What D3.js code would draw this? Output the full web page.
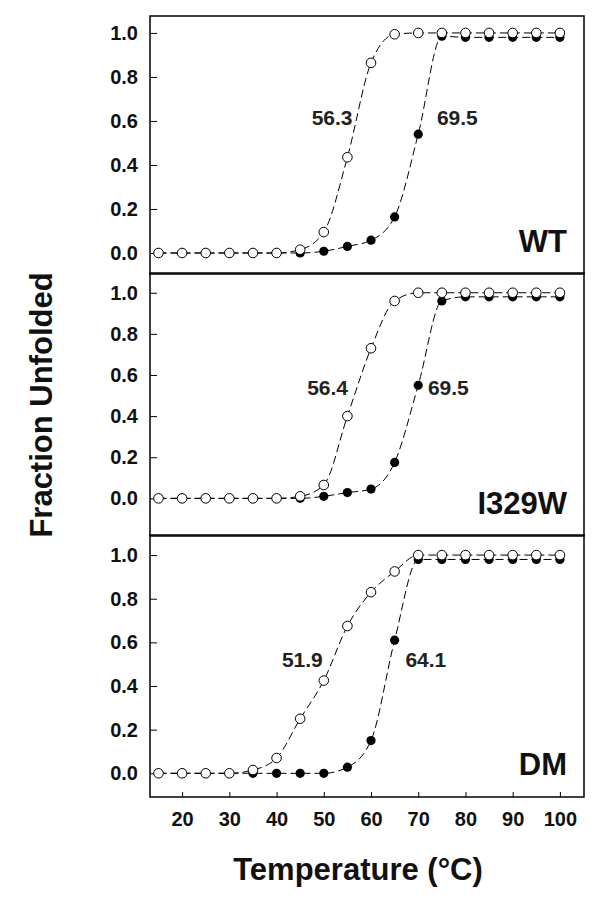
<!DOCTYPE html>
<html>
<head>
<meta charset="utf-8">
<title>Fraction Unfolded</title>
<script src="https://d3js.org/d3.v7.min.js"></script>
<style>
  body { margin: 0; background: #fff; }
  text { font-family: "Liberation Sans", Arial, sans-serif; }
</style>
</head>
<body>
<script>
// temperatures (°C)
var temps = [15, 20, 25, 30, 35, 40, 45, 50, 55, 60, 65, 70, 75, 80, 85, 90, 95, 100];

// fraction unfolded, open and filled circles
var wtOpen   = [0, 0, 0, 0, 0, 0, 0.015, 0.095, 0.435, 0.864, 0.994, 1.0, 1.0, 1.0, 1.0, 1.0, 1.0, 1.0];
var wtFilled = [0, 0, 0, 0, 0, 0, 0, 0.008, 0.03, 0.058, 0.164, 0.54, 0.985, 0.98, 0.98, 0.98, 0.98, 0.98];
var i329Open   = [0, 0, 0, 0, 0, 0, 0.01, 0.065, 0.40, 0.73, 0.96, 1.0, 1.0, 1.0, 1.0, 1.0, 1.0, 1.0];
var i329Filled = [0, 0, 0, 0, 0, 0, 0, 0.01, 0.028, 0.045, 0.175, 0.55, 0.96, 0.98, 0.98, 0.98, 0.98, 0.98];
var dmOpen   = [0, 0, 0, 0, 0.015, 0.07, 0.25, 0.425, 0.675, 0.83, 0.925, 1.0, 1.0, 1.0, 1.0, 1.0, 1.0, 1.0];
var dmFilled = [0, 0, 0, 0, 0, 0, 0, 0, 0.028, 0.15, 0.61, 0.98, 0.98, 0.98, 0.98, 0.98, 0.98, 0.98];

var panelNames = ["WT", "I329W", "DM"];
var tmOpen   = ["56.3", "56.4", "51.9"];
var tmFilled = ["69.5", "69.5", "64.1"];

var xTicks = [20, 30, 40, 50, 60, 70, 80, 90, 100];
var yTicks = [0.0, 0.2, 0.4, 0.6, 0.8, 1.0];

var W = 600, H = 901;
var left = 150, right = 584;

var svg = d3.select("body").append("svg")
    .attr("width", W)
    .attr("height", H);

var x = d3.scaleLinear().domain([13.2, 105.1]).range([left, right]);

// layout of the three stacked panels
var panels = [
  { top: 16,  bottom: 274, dom: [-0.0955, 1.077], open: wtOpen,   filled: wtFilled,
    lab: { dxO: -1, dxF: 21, yv: 0.582 } },
  { top: 273, bottom: 536, dom: [-0.183, 1.096],  open: i329Open, filled: i329Filled,
    lab: { dxO: -6, dxF: 12, yv: 0.502 } },
  { top: 535, bottom: 797, dom: [-0.1086, 1.092], open: dmOpen,   filled: dmFilled,
    lab: { dxO: -10, dxF: 15, yv: 0.487 } }
];

panels.forEach(function (p, k) {
  var y = d3.scaleLinear().domain(p.dom).range([p.bottom, p.top]);
  var g = svg.append("g");

  // y axis, ticks pointing inward
  var ya = g.append("g")
      .attr("transform", "translate(" + left + ",0)")
      .call(d3.axisRight(y).tickValues(yTicks).tickSize(7).tickFormat(d3.format(".1f")));
  ya.select(".domain").remove();
  ya.selectAll("line").attr("stroke", "#000").attr("stroke-width", 1);
  ya.selectAll("text")
      .attr("x", -12)
      .attr("text-anchor", "end")
      .attr("font-size", 20)
      .attr("font-weight", "bold")
      .attr("fill", "#111");

  if (k === 2) {
    var xa = g.append("g")
        .attr("transform", "translate(0," + p.bottom + ")")
        .call(d3.axisTop(x).tickValues(xTicks).tickSize(5));
    xa.select(".domain").remove();
    xa.selectAll("line").attr("stroke", "#000").attr("stroke-width", 1);
    xa.selectAll("text")
        .attr("y", 29)
        .attr("dy", 0)
        .attr("text-anchor", "middle")
        .attr("font-size", 20)
        .attr("font-weight", "bold")
        .attr("fill", "#111");
  }

  var line = d3.line()
      .x(function (d, i) { return x(temps[i]); })
      .y(function (d) { return y(d); })
      .curve(d3.curveMonotoneX);

  [p.filled, p.open].forEach(function (s) {
    g.append("path")
        .attr("d", line(s))
        .attr("fill", "none")
        .attr("stroke", "#000")
        .attr("stroke-width", 1)
        .attr("stroke-dasharray", "8,4");
  });

  g.selectAll("circle.f").data(p.filled).enter().append("circle")
      .attr("class", "f")
      .attr("cx", function (d, i) { return x(temps[i]); })
      .attr("cy", function (d) { return y(d); })
      .attr("r", 4.6)
      .attr("fill", "#000");

  g.selectAll("circle.o").data(p.open).enter().append("circle")
      .attr("class", "o")
      .attr("cx", function (d, i) { return x(temps[i]); })
      .attr("cy", function (d) { return y(d); })
      .attr("r", 4.8)
      .attr("fill", "#fff")
      .attr("stroke", "#000")
      .attr("stroke-width", 1);

  // Tm labels
  g.append("text")
      .attr("x", x(+tmOpen[k]) + p.lab.dxO)
      .attr("y", y(p.lab.yv))
      .attr("text-anchor", "end")
      .attr("font-size", 21)
      .attr("font-weight", "bold")
      .attr("fill", "#222")
      .text(tmOpen[k]);
  g.append("text")
      .attr("x", x(+tmFilled[k]) + p.lab.dxF)
      .attr("y", y(p.lab.yv))
      .attr("text-anchor", "start")
      .attr("font-size", 21)
      .attr("font-weight", "bold")
      .attr("fill", "#222")
      .text(tmFilled[k]);

  // panel name
  g.append("text")
      .attr("x", right - 17)
      .attr("y", p.bottom - 22)
      .attr("text-anchor", "end")
      .attr("font-size", 31)
      .attr("font-weight", "bold")
      .attr("fill", "#111")
      .text(panelNames[k]);

  // frame
  g.append("rect")
      .attr("x", left)
      .attr("y", p.top)
      .attr("width", right - left)
      .attr("height", p.bottom - p.top)
      .attr("fill", "none")
      .attr("stroke", "#000")
      .attr("stroke-width", 1.5);
});

// axis titles
svg.append("text")
    .attr("x", 358)
    .attr("y", 880)
    .attr("text-anchor", "middle")
    .attr("font-size", 31)
    .attr("font-weight", "bold")
    .attr("fill", "#111")
    .text("Temperature (°C)");

svg.append("text")
    .attr("transform", "translate(52,405) rotate(-90)")
    .attr("text-anchor", "middle")
    .attr("font-size", 31)
    .attr("font-weight", "bold")
    .attr("fill", "#111")
    .text("Fraction Unfolded");
</script>
</body>
</html>
